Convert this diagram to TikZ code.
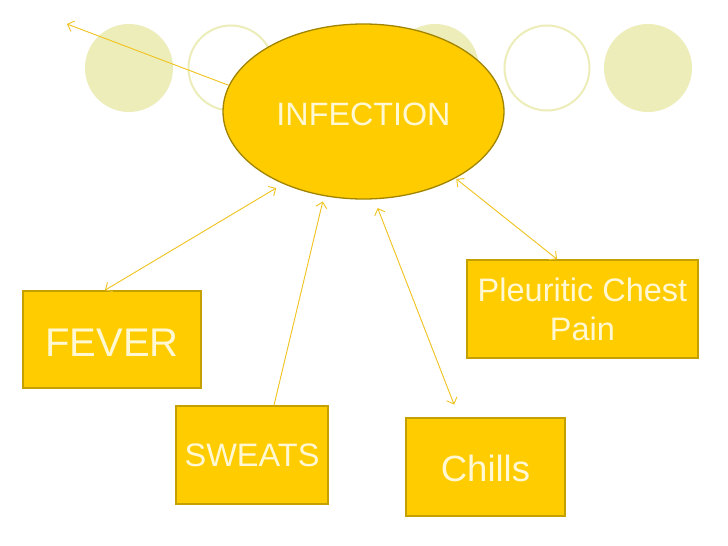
\documentclass[tikz,border=0pt]{standalone}
\usepackage{fontspec}
\setmainfont{Liberation Sans}
\usetikzlibrary{arrows.meta,shapes.geometric}
\definecolor{boxfill}{HTML}{FFCC00}
\definecolor{boxline}{HTML}{C4A000}
\definecolor{ellline}{HTML}{A08400}
\definecolor{txt}{HTML}{FFF8D2}
\definecolor{deco}{HTML}{EDEDBA}
\definecolor{arrcol}{HTML}{F0C21E}
\tikzset{
  decofill/.style={fill=deco, draw=none},
  decoring/.style={draw=deco, line width=2pt, fill=white},
  sbox/.style={rectangle, fill=boxfill, draw=boxline, line width=1.6pt, inner sep=0pt, text=txt, align=center},
  infnode/.style={ellipse, fill=boxfill, draw=ellline, line width=1.3pt, inner sep=0pt, text=txt,
    minimum width=281pt, minimum height=175pt},
  conn/.style={draw=arrcol, line width=0.9pt},
  tip/.style={-{Straight Barb[length=5.5pt,width=11pt]}},
  tips/.style={{Straight Barb[length=5.5pt,width=11pt]}-{Straight Barb[length=5.5pt,width=11pt]}}
}
\begin{document}
\begin{tikzpicture}[x=1pt,y=-1pt]
\useasboundingbox[fill=white] (0,0) rectangle (728,546);
% decorative circles
\fill[decofill] (129,68) circle (44);
\draw[decoring] (231,68) circle (42.5);
\fill[decofill] (435,68) circle (44);
\draw[decoring] (547,68) circle (42.5);
\fill[decofill] (648,68) circle (44);
% nodes
\node[infnode, font=\fontsize{32.3}{38}\selectfont] (inf) at (363.5,111.5) {\raisebox{-2.5pt}[\height][0pt]{INFECTION}};
\node[sbox, minimum width=178pt, minimum height=97pt, font=\fontsize{40}{46}\selectfont] (fever) at (112,339.5) {\raisebox{-3.5pt}[\height][0pt]{FEVER}};
\node[sbox, minimum width=152pt, minimum height=98pt, font=\fontsize{32.5}{38}\selectfont] (sweats) at (252,455) {SWEATS};
\node[sbox, minimum width=159pt, minimum height=98pt, font=\fontsize{36.5}{42}\selectfont] (chills) at (485.5,467) {\raisebox{-1.5pt}[\height][0pt]{Chills}};
\node[sbox, minimum width=231pt, minimum height=98pt, font=\fontsize{32.5}{39}\selectfont] (pleu) at (582.5,309) {Pleuritic Chest\\Pain};
\coordinate (tl) at (67,24);
% connectors
\draw[conn, tip] (inf.169) -- (tl);
\draw[conn, tips, shorten >=8pt] ([xshift=-7pt]fever.north) -- (inf.222);
\draw[conn, tip, shorten >=5.5pt] ([xshift=22pt]sweats.north) -- (inf.245);
\draw[conn, tips, shorten <=13.6pt, shorten >=9.3pt] ([xshift=-26.5pt]chills.north) -- (inf.277.4);
\draw[conn, tips, shorten >=1pt] ([xshift=-25.5pt]pleu.north) -- (inf.324.6);
\end{tikzpicture}
\end{document}
